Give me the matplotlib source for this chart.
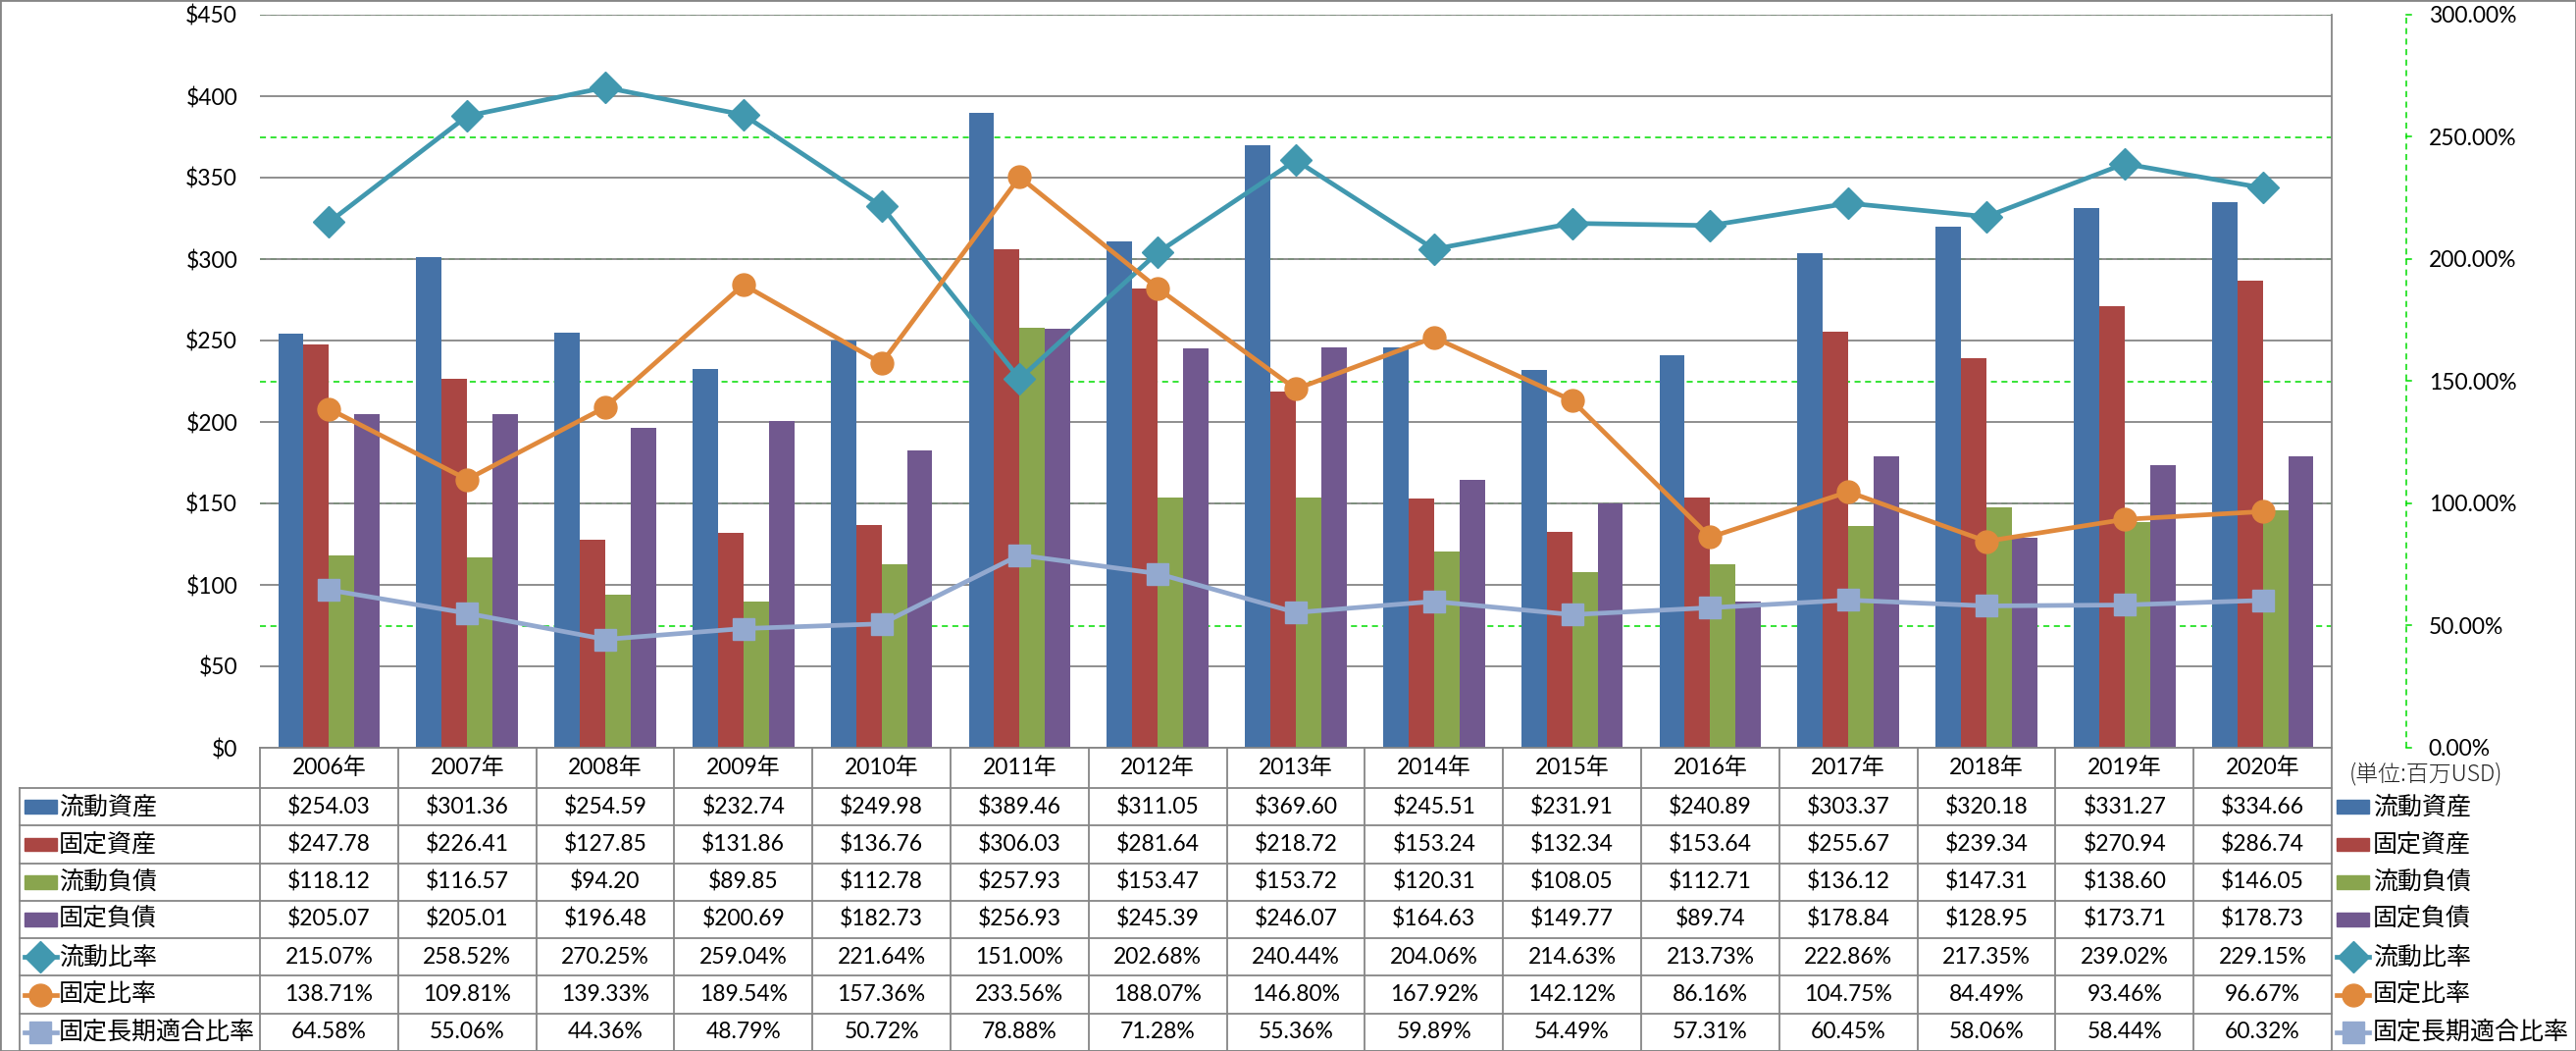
import numpy as np
import matplotlib
matplotlib.use('Agg')
import matplotlib.pyplot as plt
from matplotlib.patches import Rectangle
from matplotlib.lines import Line2D
from matplotlib.ticker import FuncFormatter, MultipleLocator

plt.rcParams['font.family'] = ['Lato', 'Noto Sans CJK JP', 'DejaVu Sans']

# Data (百万USD / %)
years = ['2006年', '2007年', '2008年', '2009年', '2010年', '2011年', '2012年', '2013年',
         '2014年', '2015年', '2016年', '2017年', '2018年', '2019年', '2020年']

current_assets = [254.03, 301.36, 254.59, 232.74, 249.98, 389.46, 311.05, 369.60,
                  245.51, 231.91, 240.89, 303.37, 320.18, 331.27, 334.66]
fixed_assets = [247.78, 226.41, 127.85, 131.86, 136.76, 306.03, 281.64, 218.72,
                153.24, 132.34, 153.64, 255.67, 239.34, 270.94, 286.74]
current_liab = [118.12, 116.57, 94.20, 89.85, 112.78, 257.93, 153.47, 153.72,
                120.31, 108.05, 112.71, 136.12, 147.31, 138.60, 146.05]
fixed_liab = [205.07, 205.01, 196.48, 200.69, 182.73, 256.93, 245.39, 246.07,
              164.63, 149.77, 89.74, 178.84, 128.95, 173.71, 178.73]

current_ratio = [215.07, 258.52, 270.25, 259.04, 221.64, 151.00, 202.68, 240.44,
                 204.06, 214.63, 213.73, 222.86, 217.35, 239.02, 229.15]
fixed_ratio = [138.71, 109.81, 139.33, 189.54, 157.36, 233.56, 188.07, 146.80,
               167.92, 142.12, 86.16, 104.75, 84.49, 93.46, 96.67]
fixed_lt_ratio = [64.58, 55.06, 44.36, 48.79, 50.72, 78.88, 71.28, 55.36,
                  59.89, 54.49, 57.31, 60.45, 58.06, 58.44, 60.32]

bar_names = ['流動資産', '固定資産', '流動負債', '固定負債']
bar_series = [current_assets, fixed_assets, current_liab, fixed_liab]
bar_colors = ['#4572A7', '#AA4643', '#89A54E', '#71588F']

line_names = ['流動比率', '固定比率', '固定長期適合比率']
line_series = [current_ratio, fixed_ratio, fixed_lt_ratio]
line_colors = ['#4198AF', '#E0893C', '#93A9CF']
line_markers = ['D', 'o', 's']
line_msize = [16, 16.5, 15.5]

unit_label = '(単位:百万USD)'

# Layout (pixels of the 2626x1071 output)
W, H = 2626, 1071
left_px, right_px, top_px, bottom_px = 265, 2377, 15, 762
col_px = (right_px - left_px) / len(years)
grid_gray = '#868686'
green = '#00DD00'

fig = plt.figure(figsize=(W / 100, H / 100), dpi=100)
fig.patches.append(Rectangle((0, 0), 1, 1, transform=fig.transFigure,
                             fill=False, edgecolor=grid_gray, lw=2))

# Main chart axes
ax = fig.add_axes([left_px / W, 1 - bottom_px / H,
                   (right_px - left_px) / W, (bottom_px - top_px) / H])
x = np.arange(len(years))
bar_w = 0.184
for j, (vals, col) in enumerate(zip(bar_series, bar_colors)):
    ax.bar(x + (j - 1.5) * bar_w, vals, width=bar_w, color=col, zorder=2)

ax.set_xlim(-0.5, len(years) - 0.5)
ax.set_ylim(0, 450)
ax.yaxis.set_major_locator(MultipleLocator(50))
ax.yaxis.tick_right()
ax.yaxis.set_major_formatter(FuncFormatter(lambda v, p: f'${v:.0f}'))
ax.tick_params(axis='y', length=0, pad=16.5, labelsize=16.5)
ax.tick_params(axis='x', bottom=False, labelbottom=False)
ax.set_axisbelow(True)
ax.yaxis.grid(True, color=grid_gray, lw=1.3)
for s in ['left', 'top', 'bottom']:
    ax.spines[s].set_visible(False)
ax.spines['right'].set_color(grid_gray)
ax.spines['right'].set_linewidth(1.3)

# Secondary axis: ratios
ax2 = ax.twinx()
ax2.set_ylim(0, 300)
pct_ticks = np.arange(0, 301, 50)
ax2.set_yticks(pct_ticks)
ax2.yaxis.set_major_formatter(FuncFormatter(lambda v, p: f'{v:.2f}%'))
ax2.tick_params(axis='y', length=0, pad=71, labelsize=16.5)
for s in ax2.spines.values():
    s.set_visible(False)

# green dashed gridlines for the % axis (behind bars)
scale = 450 / 300
for t in pct_ticks[1:]:
    ax.axhline(t * scale, color=green, lw=1.1, ls=(0, (4, 3)), zorder=0.5)

# green dashed secondary axis line with small ticks
ax_x = (2453 - left_px) / (right_px - left_px)
tick_len = 5 / (right_px - left_px)
trans = ax2.get_yaxis_transform()
ax2.plot([ax_x, ax_x], [0, 300], transform=trans, color=green, lw=1.1,
         ls=(0, (4, 3)), clip_on=False)
for t in pct_ticks:
    ax2.plot([ax_x, ax_x + tick_len], [t, t], transform=trans, color=green,
             lw=1.1, clip_on=False)

for vals, col, mk, ms in zip(line_series, line_colors, line_markers, line_msize):
    ax2.plot(x, vals, color=col, lw=3.4, marker=mk, ms=ms, mfc=col, mec=col,
             zorder=3)

ax.text((2395 - left_px) / (right_px - left_px), -27 / (bottom_px - top_px),
        unit_label, transform=ax.transAxes, fontsize=16.5,
        family=['Noto Sans CJK JP'], fontweight='light', ha='left', va='center',
        color='#222222')

# Data table below the chart
tax = fig.add_axes([left_px / W, 0, (right_px - left_px) / W, (H - bottom_px) / H])
header_h = 41 / 38.3
n_rows = len(bar_series) + len(line_series)
tax.set_xlim(-0.5, len(years) - 0.5)
tax.set_ylim(header_h + n_rows, 0)
tax.axis('off')

label_left = -0.5 - (left_px - 20) / col_px
lw_t = 1.3
tax.plot([-0.5, len(years) - 0.5], [0, 0], color=grid_gray, lw=lw_t, clip_on=False)
for k in range(n_rows + 1):
    tax.plot([label_left, len(years) - 0.5], [header_h + k] * 2, color=grid_gray,
             lw=lw_t, clip_on=False)
for i in range(len(years) + 1):
    tax.plot([i - 0.5] * 2, [0, header_h + n_rows], color=grid_gray, lw=lw_t,
             clip_on=False)
tax.plot([label_left] * 2, [header_h, header_h + n_rows], color=grid_gray,
         lw=lw_t, clip_on=False)

for i, yr in enumerate(years):
    tax.text(i, header_h / 2, yr, ha='center', va='center', fontsize=16.5)

rows_vals = [[f'${v:.2f}' for v in s] for s in bar_series] + \
            [[f'{v:.2f}%' for v in s] for s in line_series]
for k, vals in enumerate(rows_vals):
    for i, v in enumerate(vals):
        tax.text(i, header_h + k + 0.5, v, ha='center', va='center', fontsize=16.5)


def draw_key(x0, yc, k):
    # legend key: bar swatch or line with marker
    sw = 33 / col_px
    if k < len(bar_series):
        tax.add_patch(Rectangle((x0, yc - 0.18), sw, 0.36,
                                color=bar_colors[k], clip_on=False))
    else:
        j = k - len(bar_series)
        tax.add_line(Line2D([x0, x0 + sw], [yc, yc], color=line_colors[j], lw=3.4,
                            clip_on=False))
        tax.plot([x0 + sw / 2], [yc], marker=line_markers[j], ms=line_msize[j],
                 color=line_colors[j], clip_on=False)


names = bar_names + line_names
for k, nm in enumerate(names):
    yc = header_h + k + 0.5
    # row label inside table
    draw_key(label_left + 5 / col_px, yc, k)
    tax.text(label_left + 40 / col_px, yc, nm, ha='left', va='center', fontsize=18,
             family=['Noto Sans CJK JP'])
    # legend on the right
    draw_key(len(years) - 0.5 + 5 / col_px, yc, k)
    tax.text(len(years) - 0.5 + 42 / col_px, yc, nm, ha='left', va='center',
             fontsize=18, family=['Noto Sans CJK JP'], clip_on=False)

fig.savefig('out.png', dpi=100)
